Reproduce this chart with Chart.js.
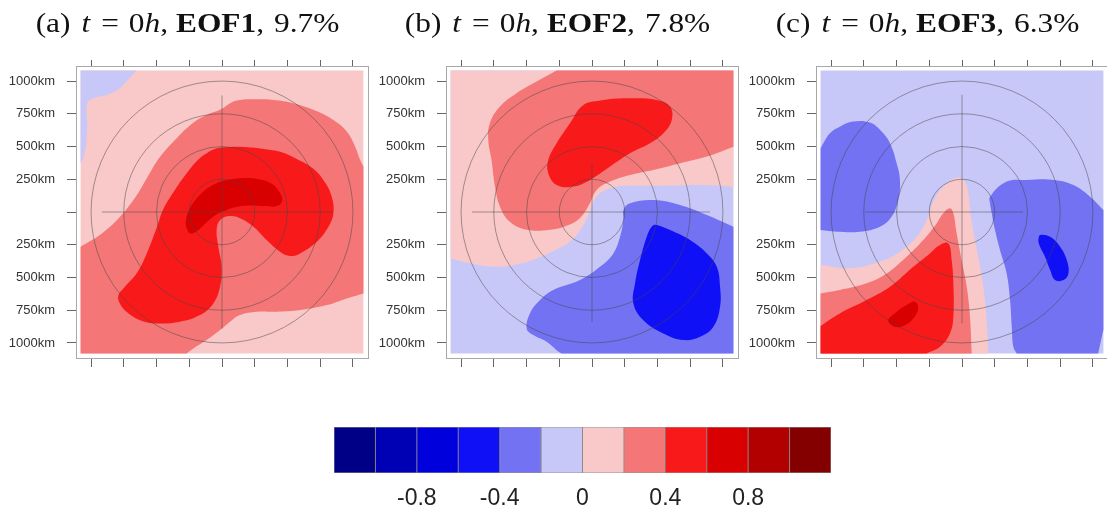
<!DOCTYPE html>
<html lang="en">
<head>
<meta charset="UTF-8">
<script src="https://cdn.jsdelivr.net/npm/chart.js@4.4.1/dist/chart.umd.min.js"></script>
<title>EOF patterns, t = 0h</title>
<style>
  html, body { margin: 0; padding: 0; background: #fff; overflow: hidden; }
  body { width: 1107px; height: 509px; position: relative; }
  canvas { position: absolute; }
</style>
</head>
<body>

<canvas id="eof1" width="370" height="380" style="left:0px;top:0px"></canvas>
<canvas id="eof2" width="370" height="380" style="left:370px;top:0px"></canvas>
<canvas id="eof3" width="370" height="380" style="left:740px;top:0px"></canvas>
<canvas id="scaleBar" width="530" height="94" style="left:320px;top:415px"></canvas>

<script>
const EDGE = 1080;      // half width of the gridded domain (km)
const AXIS_LIM = 1115;  // half width of the plotted frame (km)

const kmTicks = [-1000, -750, -500, -250, 0, 250, 500, 750, 1000];
const ringRadii = [250, 500, 750, 1000];

const levelEdges = [-1.2, -1.0, -0.8, -0.6, -0.4, -0.2, 0, 0.2, 0.4, 0.6, 0.8, 1.0, 1.2];
const levelColors = ['#000086', '#0000b4', '#0000dc', '#1010f6', '#7272f2', '#c8c8f8',
                     '#f9c8c8', '#f57676', '#f81a1a', '#d80000', '#b20000', '#840000'];
const barTicks = [-0.8, -0.4, 0, 0.4, 0.8];

const panelTags = ['(a)', '(b)', '(c)'];
const eofNames = ['EOF1', 'EOF2', 'EOF3'];
const explained = ['9.7%', '7.8%', '6.3%'];

// contour outlines, [x km, y km]; each one is the area above (or below) a level
const domain = [[-EDGE, -EDGE], [EDGE, -EDGE], [EDGE, EDGE], [-EDGE, EDGE]];

const eof1Neg0 = [[-1080, 1080], [-652, 1080], [-690, 1040], [-741, 983], [-805, 927], [-882, 894],
  [-983, 869], [-1029, 831], [-1029, 652], [-1040, 499], [-1060, 410], [-1080, 372]];
const eof1Pos02 = [[-1080, -265], [-933, -176], [-780, -38], [-650, 130], [-573, 260], [-474, 420],
  [-344, 566], [-222, 680], [-117, 741], [-15, 780], [87, 843], [138, 856], [240, 861], [392, 856],
  [545, 831], [698, 780], [851, 703], [953, 614], [1017, 499], [1055, 397], [1080, 347],
  [1080, -622], [953, -660], [800, -711], [596, -749], [418, -762], [265, -762], [138, -787],
  [61, -838], [-15, -902], [-117, -978], [-219, -1042], [-270, -1080], [-1080, -1080]];
const eof1Pos04 = [[-168, 413], [-60, 480], [60, 497], [200, 495], [330, 480], [443, 460], [571, 405],
  [698, 330], [787, 225], [838, 117], [851, -10], [813, -112], [724, -227], [596, -316], [520, -336],
  [443, -303], [341, -214], [240, -112], [138, -48], [61, -31], [-15, -61], [-41, -138], [-28, -265],
  [-3, -418], [-15, -571], [-66, -698], [-168, -787], [-321, -838], [-499, -851], [-627, -826],
  [-729, -762], [-780, -698], [-792, -640], [-745, -575], [-650, -466], [-573, -313], [-497, -115],
  [-451, 15], [-375, 145], [-268, 298]];
const eof1Pos06 = [[-245, -163], [-275, -110], [-265, -20], [-220, 70], [-160, 140], [-80, 200],
  [20, 240], [150, 258], [280, 250], [380, 215], [440, 150], [460, 85], [420, 45], [330, 45],
  [200, 50], [90, 35], [10, 5], [-60, -30], [-130, -90], [-190, -145]];

const eof2Pos0 = [[-1080, 1080], [1080, 1080], [1080, 194], [900, 205], [700, 205], [500, 200],
  [300, 200], [189, 194], [90, 160], [30, 110], [-10, 20], [-45, -60], [-90, -140], [-160, -220],
  [-260, -280], [-400, -345], [-550, -395], [-729, -418], [-933, -392], [-1080, -354]];
const eof2Pos02 = [[-270, 1080], [1080, 1080], [1080, 499], [877, 423], [673, 372], [469, 321],
  [290, 283], [138, 232], [36, 168], [-20, 60], [-92, -45], [-194, -105], [-321, -135], [-499, -135],
  [-627, -74], [-703, 41], [-741, 194], [-767, 397], [-792, 550], [-780, 678], [-703, 805],
  [-576, 907], [-423, 996]];
const eof2Pos04 = [[-66, 818], [87, 856], [290, 869], [494, 856], [596, 805], [609, 703], [545, 601],
  [443, 525], [290, 448], [138, 347], [-15, 245], [-143, 194], [-270, 206], [-334, 296], [-334, 397],
  [-270, 525], [-168, 678]];
const eof2Neg02 = [[1080, -112], [877, -23], [673, 54], [469, 92], [290, 66], [240, 15], [240, -61],
  [214, -189], [163, -316], [61, -418], [-92, -520], [-296, -596], [-397, -673], [-474, -775],
  [-499, -889], [-448, -940], [-347, -991], [-270, -1055], [-232, -1080], [1080, -1080]];
const eof2Neg04 = [[494, -99], [596, -138], [749, -214], [877, -316], [953, -418], [978, -571],
  [978, -724], [927, -877], [826, -953], [698, -978], [545, -927], [392, -826], [316, -698],
  [329, -545], [367, -367], [418, -189], [456, -112]];

const eof3Neg02West = [[-1080, 487], [-1009, 601], [-933, 652], [-831, 691], [-703, 683], [-614, 614],
  [-550, 525], [-499, 372], [-474, 245], [-487, 92], [-538, -36], [-627, -112], [-780, -150],
  [-958, -150], [-1080, -138]];
const eof3Neg02East = [[1080, 15], [1080, -900], [1040, -1080], [418, -1080], [392, -1029],
  [380, -877], [367, -673], [341, -469], [290, -290], [252, -138], [227, -10], [214, 66], [214, 117],
  [341, 232], [494, 245], [698, 245], [851, 206], [978, 117]];
const eof3Neg04 = [[583, -214], [596, -176], [673, -189], [749, -265], [800, -367], [813, -469],
  [775, -520], [711, -520], [673, -443], [634, -341], [596, -265]];
const eof3Pos0 = [[-1080, -405], [-856, -430], [-627, -380], [-474, -303], [-347, -189], [-270, -61],
  [-219, 79], [-155, 181], [-79, 245], [-15, 262], [23, 232], [48, 143], [69, -36], [99, -214],
  [138, -418], [176, -673], [194, -927], [201, -1080], [-1080, -1080]];
const eof3Pos02 = [[-1080, -622], [-933, -596], [-729, -545], [-576, -469], [-423, -341], [-296, -214],
  [-194, -87], [-143, -10], [-92, 28], [-66, -10], [-41, -163], [-3, -367], [36, -571], [61, -800],
  [74, -1080], [-1080, -1080]];
const eof3Pos04 = [[-1080, -870], [-933, -775], [-729, -673], [-550, -571], [-372, -418], [-245, -316],
  [-168, -252], [-104, -240], [-79, -367], [-66, -545], [-66, -800], [-92, -927], [-168, -1029],
  [-270, -1080], [-1080, -1080]];
const eof3Pos06 = [[-563, -826], [-499, -762], [-423, -711], [-359, -685], [-334, -736], [-372, -813],
  [-436, -864], [-512, -877]];

// [colour level, outline], painted bottom to top
const panels = [
  { id: 'eof1', layers: [[6, domain], [5, eof1Neg0], [7, eof1Pos02], [8, eof1Pos04], [9, eof1Pos06]],
    spokes: [[-916, 0, 847, 0], [0, 890, 0, -890]] },
  { id: 'eof2', layers: [[5, domain], [6, eof2Pos0], [7, eof2Pos02], [8, eof2Pos04], [4, eof2Neg02], [3, eof2Neg04]],
    spokes: [[-916, 0, 901, 0], [0, 374, 0, -840]] },
  { id: 'eof3', layers: [[5, domain], [4, eof3Neg02West], [4, eof3Neg02East], [3, eof3Neg04],
      [6, eof3Pos0], [7, eof3Pos02], [8, eof3Pos04], [9, eof3Pos06]],
    spokes: [[-740, 0, 466, 0], [0, 895, 0, -850]] }
];

// Close an outline for a smoothed line; points on the domain edge are doubled
// so the spline runs straight along the edge instead of bulging out.
function outline(pts) {
  const onEdge = p => Math.abs(p[0]) >= EDGE || Math.abs(p[1]) >= EDGE;
  const ring = onEdge(pts[0]) ? pts.concat([pts[0]]) : pts.concat([pts[0], pts[1]]);
  const out = [];
  ring.forEach(p => {
    out.push({ x: p[0], y: p[1] });
    if (onEdge(p)) out.push({ x: p[0], y: p[1] });
  });
  return out;
}

const polarGrid = {
  id: 'polarGrid',
  afterDatasetsDraw(chart, args, opts) {
    const { ctx, scales: { x, y } } = chart;
    const px = v => x.getPixelForValue(v);
    const py = v => y.getPixelForValue(v);
    ctx.save();
    ctx.strokeStyle = 'rgba(70,70,70,0.55)';
    ctx.lineWidth = 0.9;
    ringRadii.forEach(r => {
      ctx.beginPath();
      ctx.arc(px(0), py(0), px(r) - px(0), 0, Math.PI * 2);
      ctx.stroke();
    });
    opts.spokes.forEach(s => {
      ctx.beginPath();
      ctx.moveTo(px(s[0]), py(s[1]));
      ctx.lineTo(px(s[2]), py(s[3]));
      ctx.stroke();
    });
    ctx.restore();
  }
};

// mixed roman / italic / bold title, LaTeX style (glyphs widened a little)
const panelTitle = {
  id: 'panelTitle',
  afterDraw(chart, args, opts) {
    const i = opts.index;
    const size = 28, stretch = 1.12;
    const fam = '"Liberation Serif", "Times New Roman", serif';
    const runs = [
      { t: panelTags[i], s: '' }, { gap: 11 }, { t: 't', s: 'italic ' }, { gap: 11 },
      { t: '=', s: '' }, { gap: 10 }, { t: '0', s: '' }, { t: 'h', s: 'italic ' },
      { t: ',', s: '' }, { gap: 8 }, { t: eofNames[i], s: 'bold ' }, { t: ',', s: '' },
      { gap: 10 }, { t: explained[i], s: '' }
    ];
    const ctx = chart.ctx;
    ctx.save();
    let total = 0;
    runs.forEach(r => {
      if (r.gap) { r.w = r.gap; } else { ctx.font = r.s + size + 'px ' + fam; r.w = ctx.measureText(r.t).width * stretch; }
      total += r.w;
    });
    let xPos = 187.5 - total / 2;
    ctx.fillStyle = '#111';
    ctx.textBaseline = 'alphabetic';
    runs.forEach(r => {
      if (!r.gap) {
        ctx.save();
        ctx.font = r.s + size + 'px ' + fam;
        ctx.translate(xPos, 32);
        ctx.scale(stretch, 1);
        ctx.fillText(r.t, 0, 0);
        ctx.restore();
      }
      xPos += r.w;
    });
    ctx.restore();
  }
};

const setKmTicks = s => { s.ticks = kmTicks.map(v => ({ value: v })); };
const frameColor = '#a8a8a8';
const tickColor = '#666';

panels.forEach((p, i) => {
  const datasets = p.layers.map(([lvl, pts]) => ({
    data: outline(pts),
    backgroundColor: levelColors[lvl],
    borderColor: 'transparent',
    borderWidth: 0,
    pointRadius: 0,
    tension: 0.4,
    fill: 'shape'
  })).reverse();   // first dataset is painted last

  new Chart(document.getElementById(p.id), {
    type: 'line',
    data: { datasets },
    options: {
      responsive: false,
      animation: false,
      events: [],
      layout: { autoPadding: false, padding: { left: 0, right: 2, top: 0, bottom: 0 } },
      plugins: {
        legend: { display: false },
        tooltip: { enabled: false },
        polarGrid: { spokes: p.spokes },
        panelTitle: { index: i }
      },
      scales: {
        x: {
          type: 'linear', position: 'bottom', min: -AXIS_LIM, max: AXIS_LIM,
          afterBuildTicks: setKmTicks,
          ticks: { display: false },
          grid: { drawOnChartArea: false, tickLength: 9, color: tickColor },
          border: { color: frameColor },
          afterFit: s => { s.height = 22; }
        },
        xTop: {
          type: 'linear', position: 'top', min: -AXIS_LIM, max: AXIS_LIM,
          afterBuildTicks: setKmTicks,
          ticks: { display: false },
          grid: { drawOnChartArea: false, tickLength: 6, color: tickColor },
          border: { color: frameColor },
          afterFit: s => { s.height = 66; }
        },
        y: {
          type: 'linear', position: 'left', min: -AXIS_LIM, max: AXIS_LIM,
          afterBuildTicks: setKmTicks,
          ticks: {
            callback: v => v === 0 ? '' : Math.abs(v) + 'km',
            font: { family: '"Liberation Sans", Arial, sans-serif', size: 13 },
            color: '#333',
            padding: 12
          },
          grid: { drawOnChartArea: false, tickLength: 9, color: tickColor },
          border: { color: frameColor },
          afterFit: s => { s.width = 76; }
        },
        yRight: {
          type: 'linear', position: 'right', min: -AXIS_LIM, max: AXIS_LIM,
          ticks: { display: false },
          grid: { display: false },
          border: { color: frameColor },
          afterFit: s => { s.width = 0; }
        }
      }
    },
    plugins: [polarGrid, panelTitle]
  });
});

// colour scale
new Chart(document.getElementById('scaleBar'), {
  type: 'bar',
  data: {
    labels: [''],
    datasets: levelColors.map((c, i) => ({
      data: [[levelEdges[i], levelEdges[i + 1]]],
      backgroundColor: c,
      borderColor: 'rgba(50,50,50,0.5)',
      borderWidth: 0.8,
      borderSkipped: false,
      grouped: false,
      barPercentage: 1,
      categoryPercentage: 1
    }))
  },
  options: {
    indexAxis: 'y',
    responsive: false,
    animation: false,
    events: [],
    layout: { padding: { left: 14, right: 19, top: 12, bottom: 0 } },
    plugins: { legend: { display: false }, tooltip: { enabled: false } },
    scales: {
      x: {
        type: 'linear', min: -1.2, max: 1.2,
        afterBuildTicks: s => { s.ticks = barTicks.map(v => ({ value: v })); },
        ticks: {
          callback: v => String(v),
          font: { family: '"Liberation Sans", Arial, sans-serif', size: 23 },
          color: '#222',
          padding: 4
        },
        grid: { display: false },
        border: { display: false },
        afterFit: s => { s.height = 36; }
      },
      y: { display: false }
    }
  }
});
</script>

</body>
</html>
